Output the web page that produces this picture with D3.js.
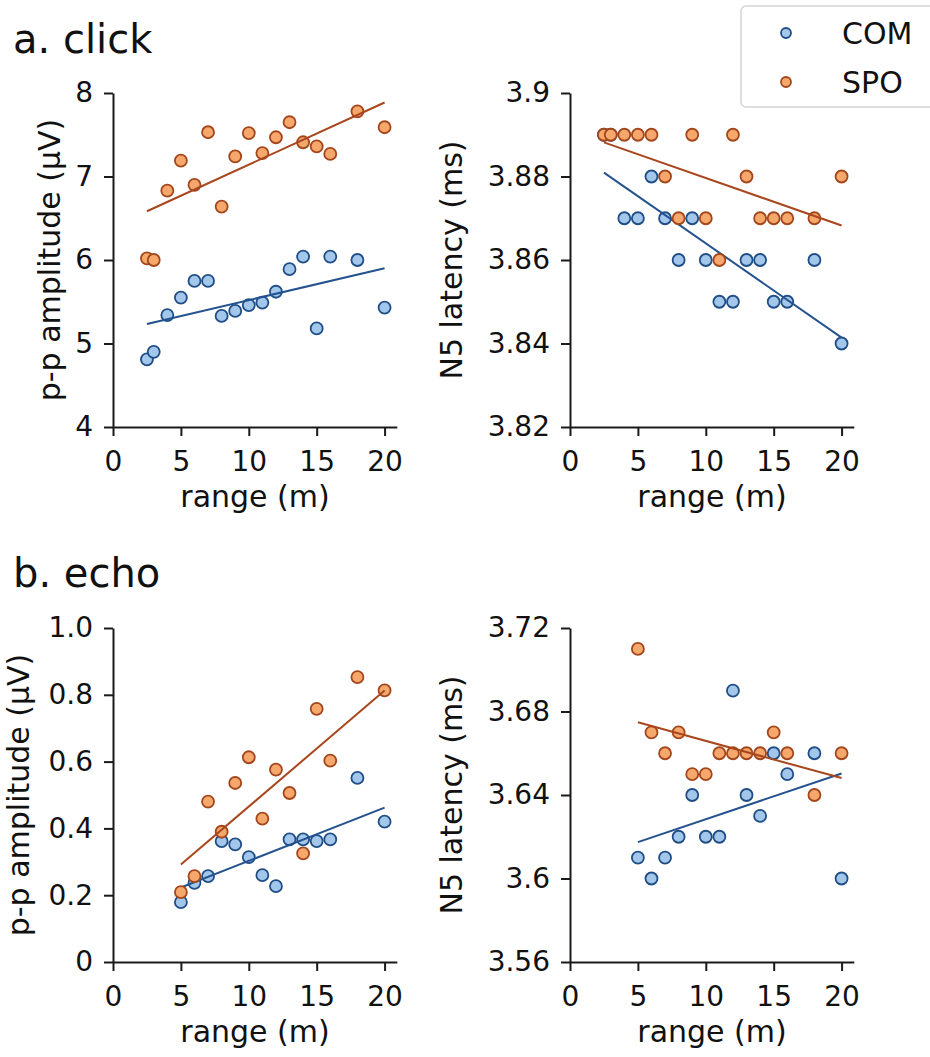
<!DOCTYPE html>
<html lang="en">
<head>
    <meta charset="UTF-8"/>
    <title>click / echo</title>
    <script src="https://d3js.org/d3.v7.min.js"></script>
    <style>
        body { margin: 0; background: #fff; }
        text { font-family: "DejaVu Sans", sans-serif; fill: #111; }
        .axis path, .axis line { stroke: #1a1a1a; stroke-width: 2px; }
    </style>
</head>
<body>
<div id="chart"></div>
<script>
    // ---- data ----
    const clickRange = [2.5, 3, 4, 5, 6, 7, 8, 9, 10, 11, 12, 13, 14, 15, 16, 18, 20];
    const echoRange = [5, 6, 7, 8, 9, 10, 11, 12, 13, 14, 15, 16, 18, 20];

    const clickAmpCOM = [4.81, 4.90, 5.34, 5.55, 5.75, 5.75, 5.33, 5.39, 5.46, 5.49, 5.62, 5.89, 6.04, 5.18, 6.04, 6.00, 5.43];
    const clickAmpSPO = [6.02, 6.00, 6.83, 7.19, 6.90, 7.53, 6.64, 7.24, 7.52, 7.28, 7.47, 7.65, 7.41, 7.36, 7.27, 7.78, 7.59];

    const clickLatCOM = [3.89, 3.89, 3.87, 3.87, 3.88, 3.87, 3.86, 3.87, 3.86, 3.85, 3.85, 3.86, 3.86, 3.85, 3.85, 3.86, 3.84];
    const clickLatSPO = [3.89, 3.89, 3.89, 3.89, 3.89, 3.88, 3.87, 3.89, 3.87, 3.86, 3.89, 3.88, 3.87, 3.87, 3.87, 3.87, 3.88];

    const echoAmpCOM = [0.179, 0.237, 0.257, 0.362, 0.352, 0.314, 0.260, 0.227, 0.367, 0.367, 0.362, 0.367, 0.551, 0.420];
    const echoAmpSPO = [0.209, 0.257, 0.480, 0.390, 0.536, 0.613, 0.429, 0.576, 0.506, 0.325, 0.758, 0.603, 0.853, 0.813];

    const echoLatCOM = [3.61, 3.60, 3.61, 3.62, 3.64, 3.62, 3.62, 3.69, 3.64, 3.63, 3.66, 3.65, 3.66, 3.60];
    const echoLatSPO = [3.71, 3.67, 3.66, 3.67, 3.65, 3.65, 3.66, 3.66, 3.66, 3.66, 3.67, 3.66, 3.64, 3.66];

    const xTicks = [0, 5, 10, 15, 20];
    const ampClickTicks = [4, 5, 6, 7, 8];
    const latClickTicks = [3.82, 3.84, 3.86, 3.88, 3.9];
    const ampEchoTicks = [0, 0.2, 0.4, 0.6, 0.8, 1.0];
    const latEchoTicks = [3.56, 3.6, 3.64, 3.68, 3.72];

    const groups = ["COM", "SPO"];
    const fill = {COM: "#a3c7ea", SPO: "#f6a86c"};
    const edge = {COM: "#1f4d86", SPO: "#a3461c"};
    const lineColor = {COM: "#24528f", SPO: "#a8461d"};

    const svg = d3.select("#chart").append("svg")
        .attr("width", 930)
        .attr("height", 1057);

    // least squares fit, drawn from min to max range
    function fit(xs, ys) {
        const mx = d3.mean(xs), my = d3.mean(ys);
        let sxy = 0, sxx = 0;
        xs.forEach(function(x, i) { sxy += (x - mx) * (ys[i] - my); sxx += (x - mx) * (x - mx); });
        const b = sxy / sxx, a = my - b * mx;
        const x0 = d3.min(xs), x1 = d3.max(xs);
        return [{x: x0, y: a + b * x0}, {x: x1, y: a + b * x1}];
    }

    function panel(o) {
        const x = d3.scaleLinear().domain([0, 20.9]).range([o.left, o.left + 283.8]);
        const y = d3.scaleLinear().domain(o.yDomain).range([o.bottom, o.top]);

        // x axis
        svg.append("g")
            .attr("class", "axis")
            .attr("transform", "translate(0," + o.bottom + ")")
            .call(d3.axisBottom(x).tickValues(xTicks).tickFormat(d3.format("d")).tickSize(9).tickPadding(8).tickSizeOuter(0))
            .selectAll("text").style("font-size", "28px").attr("dy", "0.95em");

        // y axis
        svg.append("g")
            .attr("class", "axis")
            .attr("transform", "translate(" + o.left + ",0)")
            .call(d3.axisLeft(y).tickValues(o.yTicks).tickFormat(o.fmt).tickSize(9).tickPadding(11).tickSizeOuter(0))
            .selectAll("text").style("font-size", "28px");

        svg.selectAll(".domain").attr("fill", "none");

        // axis labels
        svg.append("text")
            .attr("text-anchor", "middle")
            .attr("x", o.left + 142)
            .attr("y", o.bottom + 80)
            .style("font-size", "30px")
            .text("range (m)");
        svg.append("text")
            .attr("text-anchor", "middle")
            .attr("transform", "translate(" + (o.left - o.labelOff) + "," + ((o.top + o.bottom) / 2) + ") rotate(-90)")
            .style("font-size", "30px")
            .text(o.ylabel);

        groups.forEach(function(g) {
            const ys = o.series[g];
            svg.append("g").selectAll("circle")
                .data(o.xs)
                .enter().append("circle")
                .attr("cx", function(d) { return x(d); })
                .attr("cy", function(d, i) { return y(ys[i]); })
                .attr("r", 6)
                .style("fill", fill[g])
                .style("stroke", edge[g])
                .style("stroke-width", 1.8);

            svg.append("path")
                .datum(fit(o.xs, ys))
                .attr("fill", "none")
                .attr("stroke", lineColor[g])
                .attr("stroke-width", 2)
                .attr("d", d3.line()
                    .x(function(d) { return x(d.x); })
                    .y(function(d) { return y(d.y); }));
        });
    }

    panel({left: 113, top: 93, bottom: 427, xs: clickRange, yDomain: [4, 8], yTicks: ampClickTicks,
        fmt: d3.format("d"), ylabel: "p-p amplitude (\u03bcV)", labelOff: 53,
        series: {COM: clickAmpCOM, SPO: clickAmpSPO}});
    panel({left: 570, top: 93, bottom: 427, xs: clickRange, yDomain: [3.82, 3.9], yTicks: latClickTicks,
        fmt: function(d) { return String(+d.toFixed(2)); }, ylabel: "N5 latency (ms)", labelOff: 108,
        series: {COM: clickLatCOM, SPO: clickLatSPO}});
    panel({left: 113, top: 628, bottom: 962, xs: echoRange, yDomain: [0, 1.0], yTicks: ampEchoTicks,
        fmt: function(d) { return d === 0 ? "0" : d.toFixed(1); }, ylabel: "p-p amplitude (\u03bcV)", labelOff: 84,
        series: {COM: echoAmpCOM, SPO: echoAmpSPO}});
    panel({left: 570, top: 628, bottom: 962, xs: echoRange, yDomain: [3.56, 3.72], yTicks: latEchoTicks,
        fmt: function(d) { return String(+d.toFixed(2)); }, ylabel: "N5 latency (ms)", labelOff: 108,
        series: {COM: echoLatCOM, SPO: echoLatSPO}});

    // panel titles
    svg.append("text").attr("x", 13).attr("y", 53).style("font-size", "40px").text("a. click");
    svg.append("text").attr("x", 13).attr("y", 587).style("font-size", "40px").text("b. echo");

    // legend
    const legend = svg.append("g");
    legend.append("rect")
        .attr("x", 741).attr("y", 6).attr("width", 200).attr("height", 101).attr("rx", 5)
        .style("fill", "#fff").style("stroke", "#d4d4d4").style("stroke-width", 1.5);
    groups.forEach(function(g, i) {
        legend.append("circle")
            .attr("cx", 786).attr("cy", 33 + i * 49).attr("r", 5)
            .style("fill", fill[g]).style("stroke", edge[g]).style("stroke-width", 1.8);
        legend.append("text")
            .attr("x", 842).attr("y", 44 + i * 49)
            .style("font-size", "30px")
            .text(g);
    });
</script>
</body>
</html>
